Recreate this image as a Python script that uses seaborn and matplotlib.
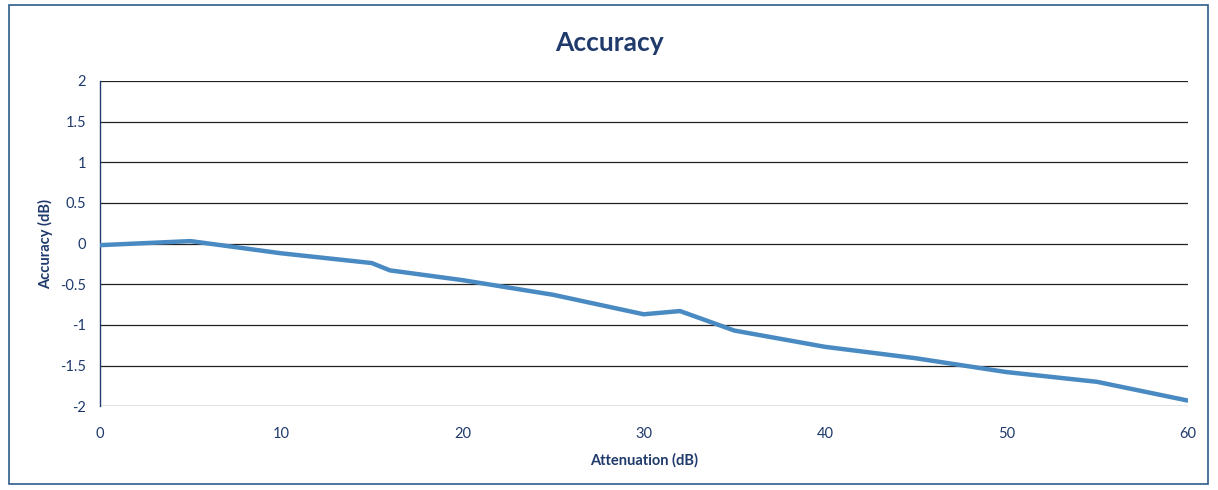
import numpy as np
import pandas as pd
import seaborn as sns
import matplotlib.pyplot as plt
from matplotlib.patches import Rectangle

# Values
attenuation_db = [0, 5, 10, 15, 16, 20, 25, 30, 32, 35, 40, 45, 50, 55, 60]
accuracy_db = [-0.02, 0.03, -0.12, -0.24, -0.33, -0.45, -0.63, -0.87, -0.83,
               -1.07, -1.27, -1.41, -1.58, -1.70, -1.93]

x_ticks = [0, 10, 20, 30, 40, 50, 60]
y_ticks = [-2, -1.5, -1, -0.5, 0, 0.5, 1, 1.5, 2]
y_labels = ["-2", "-1.5", "-1", "-0.5", "0", "0.5", "1", "1.5", "2"]

sns.set_style("white")
plt.rcParams["font.family"] = ["Lato", "DejaVu Sans"]

navy = "#1F3A6B"
line_blue = "#4A8AC2"

df = pd.DataFrame({"Attenuation (dB)": attenuation_db, "Accuracy (dB)": accuracy_db})

fig = plt.figure(figsize=(12.18, 4.9), dpi=100)
ax = fig.add_axes([0.082, 0.171, 0.893, 0.664])

sns.lineplot(data=df, x="Attenuation (dB)", y="Accuracy (dB)", ax=ax,
             color=line_blue, linewidth=3.2, zorder=3)

ax.set_xlim(0, 60)
ax.set_ylim(-2, 2)
ax.set_xticks(x_ticks)
ax.set_yticks(y_ticks)
ax.set_yticklabels(y_labels)
ax.tick_params(axis="both", length=0, labelsize=10.5, colors=navy)
ax.tick_params(axis="x", pad=15)
ax.tick_params(axis="y", pad=10)

for y in y_ticks:
    ax.axhline(y, color="#222222", linewidth=0.9, zorder=1)

for side in ["top", "right", "bottom"]:
    ax.spines[side].set_visible(False)
ax.spines["left"].set_color(navy)
ax.spines["left"].set_linewidth(1.0)

ax.set_xlabel("Attenuation (dB)", fontsize=10.5, color=navy, fontweight="bold", labelpad=9)
ax.set_ylabel("Accuracy (dB)", fontsize=10.5, color=navy, fontweight="bold", labelpad=5)
fig.text(0.5, 0.912, "Accuracy", ha="center", va="center", fontsize=19,
         fontweight="bold", color=navy)

# thin frame around the whole chart area
fig.patches.append(Rectangle((0.007, 0.012), 0.985, 0.978, transform=fig.transFigure,
                             fill=False, edgecolor="#2E5E8C", linewidth=1.2))

fig.savefig("out.png", dpi=100, facecolor="white")
